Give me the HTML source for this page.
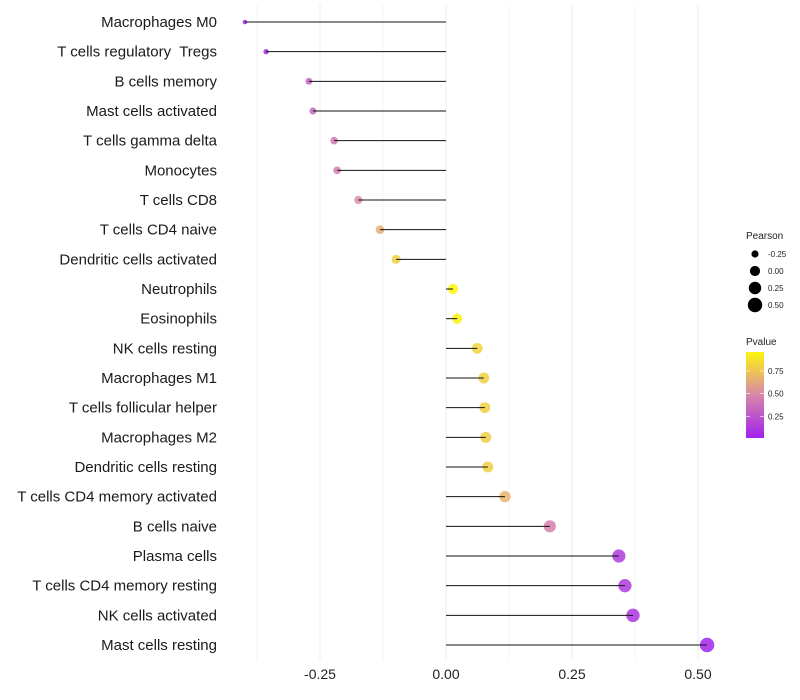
<!DOCTYPE html>
<html><head><meta charset="utf-8"><style>
body{margin:0;background:#fff;}
svg{display:block;font-family:"Liberation Sans",sans-serif;}
text{white-space:pre;}
</style></head><body>
<svg id="chart" width="800" height="700"></svg>
<script>
const categories=["Macrophages M0","T cells regulatory  Tregs","B cells memory","Mast cells activated","T cells gamma delta","Monocytes","T cells CD8","T cells CD4 naive","Dendritic cells activated","Neutrophils","Eosinophils","NK cells resting","Macrophages M1","T cells follicular helper","Macrophages M2","Dendritic cells resting","T cells CD4 memory activated","B cells naive","Plasma cells","T cells CD4 memory resting","NK cells activated","Mast cells resting"];
const pearson=[-0.399,-0.357,-0.272,-0.264,-0.222,-0.216,-0.174,-0.131,-0.099,0.014,0.022,0.062,0.075,0.077,0.079,0.083,0.117,0.206,0.343,0.355,0.371,0.518];
const pvalues=[0.02,0.04,0.32,0.33,0.42,0.43,0.52,0.66,0.8,0.96,0.94,0.82,0.8,0.8,0.79,0.8,0.68,0.45,0.13,0.12,0.1,0.02];
const xTicks=[-0.25,0,0.25,0.5];
const xTickLabels=["-0.25","0.00","0.25","0.50"];
const sizeLegend=[-0.25,0,0.25,0.5];
const sizeLegendLabels=["-0.25","0.00","0.25","0.50"];
const colorTicks=[0.25,0.5,0.75];
const colorTickLabels=["0.25","0.50","0.75"];

const NS="http://www.w3.org/2000/svg";
const svg=document.getElementById('chart');
function mk(t,a,p){const e=document.createElementNS(NS,t);for(const k in a)e.setAttribute(k,a[k]);(p||svg).appendChild(e);return e;}
const xs=v=>446+v*504;
const ys=i=>22+i*(623/21);
const rs=v=>Math.sqrt(Math.max(1,5+52*(v+0.4)));
function lerp(a,b,t){return a.map((x,i)=>Math.round(x+(b[i]-x)*t));}
function col(p){const c0=[160,32,240],c1=[217,138,166],c2=[255,255,0];const c=p<0.5?lerp(c0,c1,p/0.5):lerp(c1,c2,(p-0.5)/0.5);return `rgb(${c})`;}
[-0.375,-0.25,-0.125,0,0.125,0.25,0.375,0.5].forEach(v=>{
 const g=mk('line',{x1:xs(v),x2:xs(v),y1:5,y2:660,stroke:'#ebebeb','stroke-width':Number.isInteger(v*4)?1:0.6});
 
});
xTicks.forEach((v,i)=>{
 const t=mk('text',{x:xs(v),y:679,'text-anchor':'middle','font-size':14,fill:'#222'});t.textContent=xTickLabels[i];
 
});
categories.forEach((c,i)=>{
 const y=ys(i);
 const t=mk('text',{x:217,y:y+5,'text-anchor':'end','font-size':15,fill:'#1a1a1a'});t.textContent=c;
 
 const d=mk('circle',{cx:xs(pearson[i]),cy:y,r:rs(pearson[i]),fill:col(pvalues[i]),'fill-opacity':0.85});
 
 const l=mk('line',{x1:xs(0),x2:xs(pearson[i]),y1:y,y2:y,stroke:'#111','stroke-width':1});
 
});
const st=mk('text',{x:746,y:239,'font-size':10,fill:'#222'});st.textContent='Pearson';

sizeLegend.forEach((v,i)=>{
 const y=254+i*17;
 const c=mk('circle',{cx:755,cy:y,r:rs(v),fill:'#000'});
 
 const t=mk('text',{x:768,y:y+3,'font-size':8,fill:'#222'});t.textContent=sizeLegendLabels[i];
 
});
const ct=mk('text',{x:746,y:345,'font-size':10,fill:'#222'});ct.textContent='Pvalue';

const defs=mk('defs',{});
const lg=mk('linearGradient',{id:'pg',x1:0,y1:1,x2:0,y2:0},defs);
[0,0.25,0.5,0.75,1].forEach(o=>mk('stop',{offset:o,'stop-color':col(0.01+o*0.95)},lg));
const cb=mk('rect',{x:746,y:352,width:18,height:86,fill:'url(#pg)'});

const cy=p=>438-(p-0.01)/0.95*86;
colorTicks.forEach((p,i)=>{
 mk('line',{x1:746,x2:750,y1:cy(p),y2:cy(p),stroke:'#fff','stroke-width':0.6});
 mk('line',{x1:760,x2:764,y1:cy(p),y2:cy(p),stroke:'#fff','stroke-width':0.6});
 const t=mk('text',{x:768,y:cy(p)+3,'font-size':8,fill:'#222'});t.textContent=colorTickLabels[i];
 
});
</script>
</body></html>
